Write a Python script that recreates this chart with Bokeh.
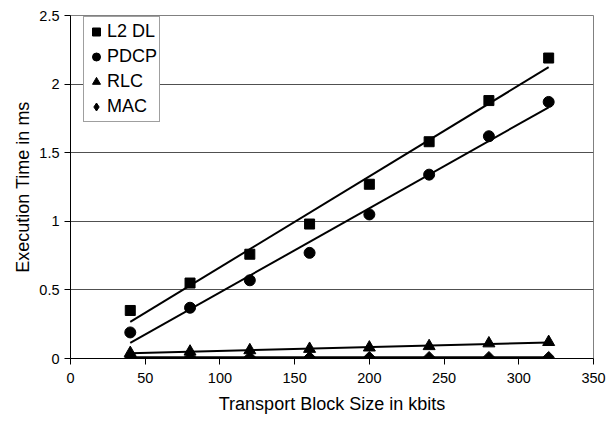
import numpy as np
from bokeh.plotting import figure
from bokeh.models import Range1d, FixedTicker, NumeralTickFormatter, Legend, LegendItem
from bokeh.embed import file_html
from bokeh.resources import INLINE

# ---- data ----
block_size = [40, 80, 120, 160, 200, 240, 280, 320]
l2_dl = [0.35, 0.55, 0.76, 0.98, 1.27, 1.58, 1.88, 2.19]
pdcp = [0.19, 0.37, 0.57, 0.77, 1.05, 1.34, 1.62, 1.87]
rlc = [0.04, 0.05, 0.06, 0.07, 0.08, 0.09, 0.11, 0.12]
mac = [0.01, 0.01, 0.01, 0.01, 0.01, 0.01, 0.01, 0.01]
series_names = ["L2 DL", "PDCP", "RLC", "MAC"]
x_ticks = [0, 50, 100, 150, 200, 250, 300, 350]
y_ticks = [0, 0.5, 1, 1.5, 2, 2.5]

FONT = "Liberation Sans"

p = figure(width=608, height=424, output_backend="svg", toolbar_location=None,
           x_range=Range1d(0, 350), y_range=Range1d(0, 2.5))
p.min_border_left = 70
p.min_border_right = 15
p.min_border_top = 15
p.min_border_bottom = 66
p.background_fill_color = "white"
p.border_fill_color = "white"
p.outline_line_color = "#808080"
p.outline_line_width = 1

p.xgrid.grid_line_color = None
p.ygrid.grid_line_color = "#505050"
p.ygrid.grid_line_width = 1

for ax in (p.xaxis, p.yaxis):
    ax.axis_line_color = "black"
    ax.major_tick_line_color = "black"
    ax.major_tick_out = 6
    ax.major_tick_in = 0
    ax.minor_tick_line_color = None
    ax.major_label_text_font = FONT
    ax.major_label_text_font_size = "14.5px"
    ax.major_label_text_color = "black"
    ax.axis_label_text_font = FONT
    ax.axis_label_text_font_size = "18px"
    ax.axis_label_text_font_style = "normal"
    ax.axis_label_text_color = "black"

p.xaxis.ticker = FixedTicker(ticks=x_ticks)
p.yaxis.ticker = FixedTicker(ticks=y_ticks)
p.yaxis.formatter = NumeralTickFormatter(format="0.[0]")
p.xaxis.axis_label = "Transport Block Size in kbits"
p.yaxis.axis_label = "Execution Time in ms"
p.xaxis.major_label_standoff = 8
p.xaxis.axis_label_standoff = 8
p.yaxis.major_label_standoff = 5
p.yaxis.axis_label_standoff = 3

series = [l2_dl, pdcp, rlc, mac]
markers = ["square", "circle", "triangle", "square"]
legend_markers = ["square", "circle", "triangle", "diamond"]
sizes = [10, 11, 12, 8]
angles = [0, 0, 0, np.pi / 4]

xs = np.array(block_size, dtype=float)
items = []
for name, ys, mk, lmk, sz, ang in zip(series_names, series, markers, legend_markers, sizes, angles):
    r = p.scatter(block_size, ys, marker=mk, size=sz, angle=ang,
                  fill_color="black", line_color="black")
    if lmk != mk:
        # legend-only proxy (no data drawn) so the key shows a diamond
        r = p.scatter([np.nan], [np.nan], marker=lmk, size=sz,
                      fill_color="black", line_color="black")
    items.append(LegendItem(label=name, renderers=[r]))
for ys in series:
    slope, intercept = np.polyfit(xs, np.array(ys, dtype=float), 1)
    tx = [xs.min(), xs.max()]
    ty = [slope * v + intercept for v in tx]
    p.line(tx, ty, line_color="black", line_width=2)

legend = Legend(items=items, location=(13, 236))
legend.label_text_font = FONT
legend.label_text_font_size = "18px"
legend.label_text_color = "black"
legend.label_height = 25
legend.glyph_height = 25
legend.glyph_width = 20
legend.spacing = 0
legend.padding = 2
legend.label_standoff = 1
legend.margin = 0
legend.border_line_color = "#404040"
legend.border_line_width = 1
legend.background_fill_color = "white"
legend.background_fill_alpha = 1
p.add_layout(legend)

open("out.html", "w").write(file_html(p, INLINE))
